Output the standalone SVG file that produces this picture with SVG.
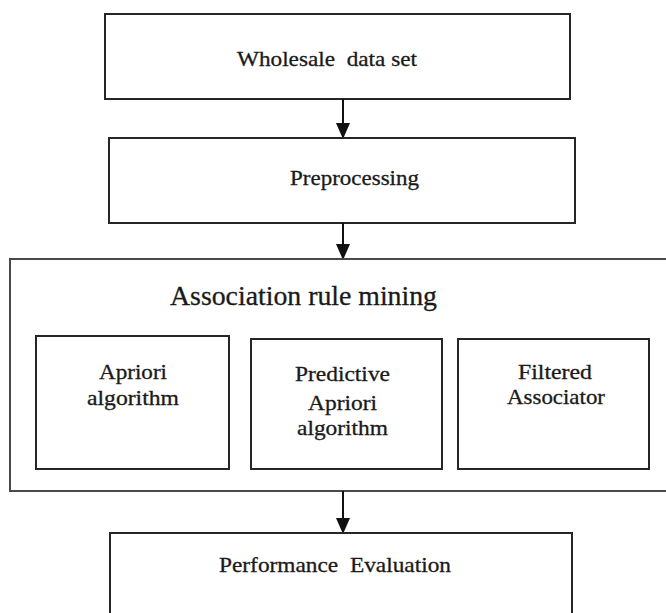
<svg xmlns="http://www.w3.org/2000/svg" width="666" height="613" viewBox="0 0 666 613">
<style>
.box{fill:#fff;stroke:#262626;stroke-width:2}
.outer{fill:#fff;stroke:#4a4a4a;stroke-width:2}
text{font-family:'Liberation Serif','Times New Roman',serif;font-size:21px;fill:#1a1a1a;stroke:#1a1a1a;stroke-width:0.3;text-anchor:middle}
.title{font-size:27px}
.conn{stroke:#111;stroke-width:2;fill:none}
</style>
<defs>
<marker id="ah" markerUnits="userSpaceOnUse" markerWidth="14" markerHeight="16" refX="14" refY="7" orient="auto">
<path d="M0,0 L16,7 L0,14 Z" fill="#111"/>
</marker>
</defs>
<rect width="666" height="613" fill="#fff"/>
<g id="wholesale">
<rect class="box" x="105" y="14" width="465" height="85"/>
<text x="327" y="66" textLength="180" lengthAdjust="spacingAndGlyphs" xml:space="preserve">Wholesale  data set</text>
</g>
<g id="preprocessing">
<rect class="box" x="109" y="138" width="466" height="85"/>
<text x="354.5" y="185" textLength="129" lengthAdjust="spacingAndGlyphs">Preprocessing</text>
</g>
<g id="association">
<rect class="outer" x="10" y="259" width="670" height="232"/>
<text class="title" x="303.5" y="305" textLength="267" lengthAdjust="spacingAndGlyphs">Association rule mining</text>
</g>
<g id="apriori">
<rect class="box" x="36" y="336" width="193" height="133"/>
<text x="133" y="379" textLength="68" lengthAdjust="spacingAndGlyphs">Apriori</text>
<text x="133" y="405" textLength="92" lengthAdjust="spacingAndGlyphs">algorithm</text>
</g>
<g id="predictive">
<rect class="box" x="251" y="339" width="191" height="130"/>
<text x="342.5" y="381" textLength="95" lengthAdjust="spacingAndGlyphs">Predictive</text>
<text x="342.5" y="410" textLength="69" lengthAdjust="spacingAndGlyphs">Apriori</text>
<text x="342.5" y="435" textLength="91" lengthAdjust="spacingAndGlyphs">algorithm</text>
</g>
<g id="filtered">
<rect class="box" x="458" y="339" width="191" height="130"/>
<text x="555" y="379" textLength="74" lengthAdjust="spacingAndGlyphs">Filtered</text>
<text x="556" y="404" textLength="98" lengthAdjust="spacingAndGlyphs">Associator</text>
</g>
<g id="performance">
<rect class="box" x="110" y="533" width="462" height="95"/>
<text x="335" y="572" textLength="232" lengthAdjust="spacingAndGlyphs" xml:space="preserve">Performance  Evaluation</text>
</g>
<g id="connectors">
<line class="conn" x1="343" y1="99" x2="343" y2="137" marker-end="url(#ah)"/>
<line class="conn" x1="343" y1="223" x2="343" y2="258" marker-end="url(#ah)"/>
<line class="conn" x1="343" y1="491" x2="343" y2="532" marker-end="url(#ah)"/>
</g>
</svg>
